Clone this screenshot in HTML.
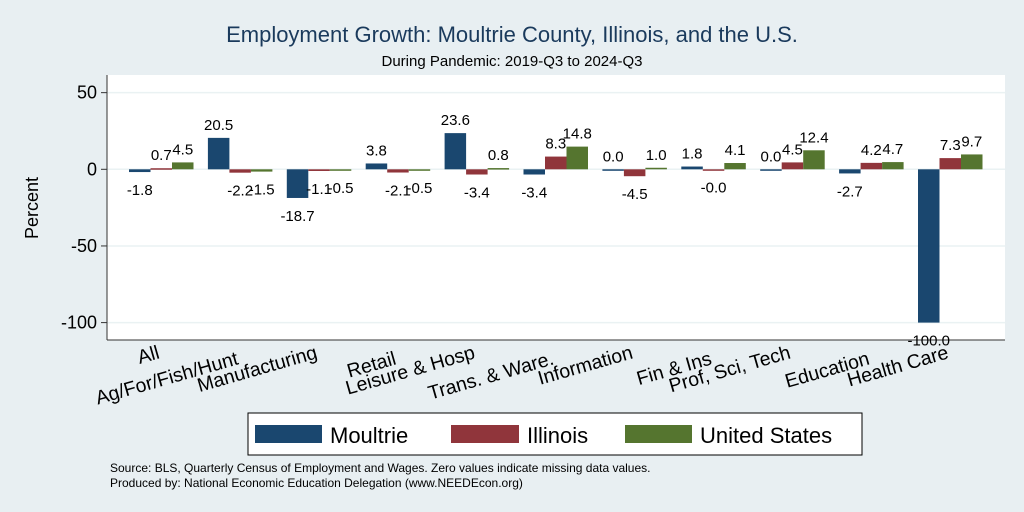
<!DOCTYPE html>
<html><head><meta charset="utf-8"><style>
body{margin:0;background:#e8eff2;}
svg{display:block;font-family:"Liberation Sans",Arial,sans-serif;}
</style></head><body>
<svg id="c" width="1024" height="512">
<rect x="0" y="0" width="1024" height="512" fill="#e8eff2"/>
<text x="512" y="42" text-anchor="middle" font-size="22" fill="#1a3a5c">Employment Growth: Moultrie County, Illinois, and the U.S.</text>
<text x="512" y="66" text-anchor="middle" font-size="15" fill="#000">During Pandemic: 2019-Q3 to 2024-Q3</text>
<rect x="107" y="75" width="898" height="265" fill="#fff"/>
<g id="grid"></g>
<g id="bars"></g>
<line x1="107" y1="75" x2="107" y2="340" stroke="#333" stroke-width="1"/>
<line x1="107" y1="340" x2="1005" y2="340" stroke="#333" stroke-width="1"/>
<g id="vals"></g>
<g id="xl"></g>
<text transform="translate(38,208) rotate(-90)" text-anchor="middle" font-size="18">Percent</text>
<g>
<rect x="248" y="413" width="614" height="42" fill="#fff" stroke="#000" stroke-width="1"/>
<rect x="255" y="425" width="67" height="18" fill="#1a476f"/>
<text x="330" y="443" font-size="22">Moultrie</text>
<rect x="451" y="425" width="68" height="18" fill="#90353b"/>
<text x="527" y="443" font-size="22">Illinois</text>
<rect x="625" y="425" width="67" height="18" fill="#55752f"/>
<text x="700" y="443" font-size="22">United States</text>
</g>
<text x="110" y="472" font-size="12">Source: BLS, Quarterly Census of Employment and Wages. Zero values indicate missing data values.</text>
<text x="110" y="487" font-size="12">Produced by: National Economic Education Delegation (www.NEEDEcon.org)</text>
</svg>
<script>
const categories=["All","Ag/For/Fish/Hunt","Manufacturing","Retail","Leisure & Hosp","Trans. & Ware.","Information","Fin & Ins","Prof, Sci, Tech","Education","Health Care"];
const moultrie=[-1.8,20.5,-18.7,3.8,23.6,-3.4,0.0,1.8,0.0,-2.7,-100.0];
const illinois=[0.7,-2.2,-1.1,-2.1,-3.4,8.3,-4.5,-0.01,4.5,4.2,7.3];
const unitedStates=[4.5,-1.5,-0.5,-0.5,0.8,14.8,1.0,4.1,12.4,4.7,9.7];
const yTicks=[50,0,-50,-100];
const NS="http://www.w3.org/2000/svg";
function y(v){return 169.3-v*1.533;}
function xc(i){return 161.5+i*78.9;}
function mk(t,a,p){const e=document.createElementNS(NS,t);for(const k in a)e.setAttribute(k,a[k]);p.appendChild(e);return e;}
const grid=document.getElementById('grid'),bars=document.getElementById('bars'),vals=document.getElementById('vals'),xl=document.getElementById('xl');
yTicks.forEach(t=>{
 const g=mk('line',{x1:107,x2:1005,y1:y(t),y2:y(t),stroke:'#eaf2f3','stroke-width':1.5},grid);
 
 
 const tk=mk('line',{x1:101,x2:107,y1:y(t),y2:y(t),stroke:'#333'},grid);
 
 
 const tx=mk('text',{x:97,y:y(t)+6,'text-anchor':'end','font-size':18},grid);
 tx.textContent=t;
 
 
});
const series=[[moultrie,'#1a476f','moultrie'],[illinois,'#90353b','illinois'],[unitedStates,'#55752f','us']];
categories.forEach((c,i)=>{
 series.forEach((s,j)=>{
  const v=s[0][i];const x=xc(i)-32.5+j*21.5;
  const y0=y(0),y1=y(v);
  const r=mk('rect',{x:x,y:Math.min(y0,y1),width:21.5,height:Math.max(Math.abs(y1-y0),1.5),fill:s[1]},bars);
  
  
  const ty=v>=0?y1-8:y1+23;
  const t=mk('text',{x:x+10.75,y:ty,'text-anchor':'middle','font-size':15},vals);
  t.textContent=v.toFixed(1);
  
  
 });
 const ly=i%2===0?358:364;
 const lx=xc(i)-1;
 const l=mk('text',{x:lx,y:ly,'text-anchor':'end','font-size':19.5,transform:'rotate(-16 '+lx+' '+ly+')'},xl);
 l.textContent=c;
 
 
});
</script>
</body></html>
